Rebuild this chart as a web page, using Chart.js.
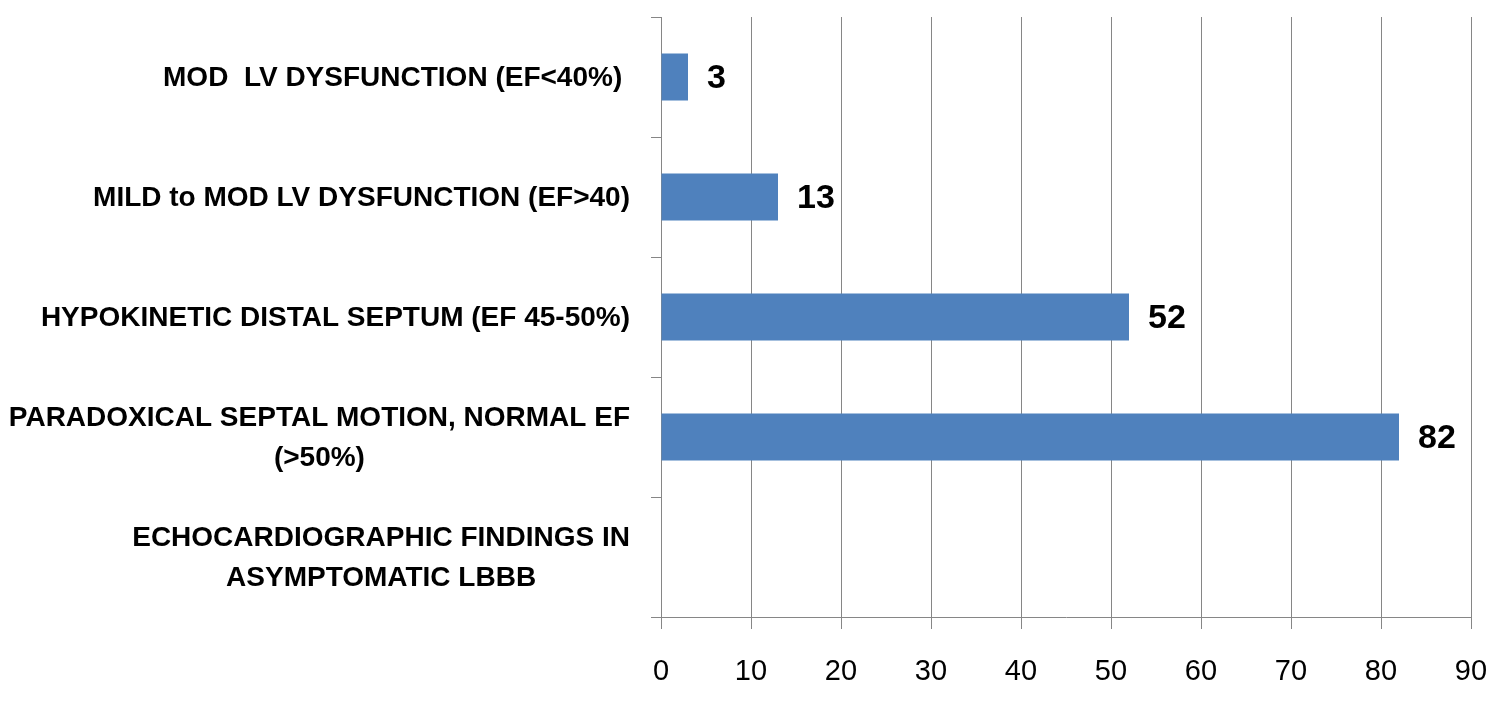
<!doctype html>
<html lang="en">
  <head>
    <script src="https://cdn.jsdelivr.net/npm/chart.js"></script>
    <style>
      html, body { margin: 0; padding: 0; background: #ffffff; }
      #wrap { width: 1500px; height: 705px; }
    </style>
  </head>
  <body>
    <div id="wrap"><canvas id="myChart"></canvas></div>
    <script>
      // categories, top to bottom
      var categories = [
        'MOD  LV DYSFUNCTION (EF<40%) ',
        'MILD to MOD LV DYSFUNCTION (EF>40)',
        'HYPOKINETIC DISTAL SEPTUM (EF 45-50%)',
        ['PARADOXICAL SEPTAL MOTION, NORMAL EF', '(>50%)'],
        ['ECHOCARDIOGRAPHIC FINDINGS IN', 'ASYMPTOMATIC LBBB']
      ];
      var counts = [3, 13, 52, 82, null];
      var xMin = 0;
      var xMax = 90;
      var xStep = 10;

      var gridColor = '#868686';
      var barColor = '#4F81BD';
      var fontFamily = "'Liberation Sans', Arial, sans-serif";

      // Excel style category labels: block right-aligned, lines centered inside it
      var categoryLabels = {
        id: 'categoryLabels',
        afterDraw: function (chart) {
          var ctx = chart.ctx;
          var yScale = chart.scales.y;
          var right = yScale.right - 10 - 21;
          var lineH = 40;
          ctx.save();
          ctx.font = 'bold 28px ' + fontFamily;
          ctx.fillStyle = '#000000';
          ctx.textAlign = 'center';
          ctx.textBaseline = 'middle';
          for (var i = 0; i < categories.length; i++) {
            var lines = Array.isArray(categories[i]) ? categories[i] : [categories[i]];
            var widest = 0;
            for (var j = 0; j < lines.length; j++) {
              widest = Math.max(widest, ctx.measureText(lines[j]).width);
            }
            var cx = right - widest / 2;
            var cy = yScale.getPixelForTick(i);
            for (j = 0; j < lines.length; j++) {
              ctx.fillText(lines[j], cx, cy + 1 + (j - (lines.length - 1) / 2) * lineH);
            }
          }
          ctx.restore();
        }
      };

      // value labels to the right of each bar
      var valueLabels = {
        id: 'valueLabels',
        afterDatasetsDraw: function (chart) {
          var ctx = chart.ctx;
          var meta = chart.getDatasetMeta(0);
          ctx.save();
          ctx.font = 'bold 34px ' + fontFamily;
          ctx.fillStyle = '#000000';
          ctx.textAlign = 'left';
          ctx.textBaseline = 'middle';
          meta.data.forEach(function (bar, i) {
            var v = counts[i];
            if (v == null) return;
            ctx.fillText(String(v), bar.x + 19, bar.y + 2);
          });
          ctx.restore();
        }
      };

      var canvas = document.getElementById('myChart');
      var setup = {
        type: 'bar',
        data: {
          labels: categories,
          datasets: [{
            data: counts,
            backgroundColor: barColor,
            borderWidth: 0,
            barPercentage: 0.392,
            categoryPercentage: 1
          }]
        },
        options: {
          indexAxis: 'y',
          responsive: true,
          maintainAspectRatio: false,
          animation: false,
          layout: {
            padding: { top: 17, right: 29, bottom: 0, left: 0 }
          },
          plugins: {
            legend: { display: false },
            title: { display: false },
            tooltip: { enabled: false }
          },
          scales: {
            x: {
              min: xMin,
              max: xMax,
              ticks: {
                stepSize: xStep,
                color: '#000000',
                padding: 26,
                maxRotation: 0,
                font: { family: fontFamily, size: 29 }
              },
              grid: {
                color: gridColor,
                lineWidth: 1,
                tickLength: 12
              },
              border: { color: gridColor, width: 1 },
              afterFit: function (scale) {
                scale.height = 88;
                scale.paddingLeft = 0;
                scale.paddingRight = 0;
              }
            },
            y: {
              offset: true,
              ticks: {
                display: false
              },
              grid: {
                offset: true,
                drawOnChartArea: false,
                color: gridColor,
                tickLength: 10
              },
              border: { color: gridColor, width: 1 },
              afterFit: function (scale) {
                scale.width = 661;
              }
            }
          }
        },
        plugins: [categoryLabels, valueLabels]
      };
      var chart = new Chart(canvas, setup);
    </script>
  </body>
</html>
